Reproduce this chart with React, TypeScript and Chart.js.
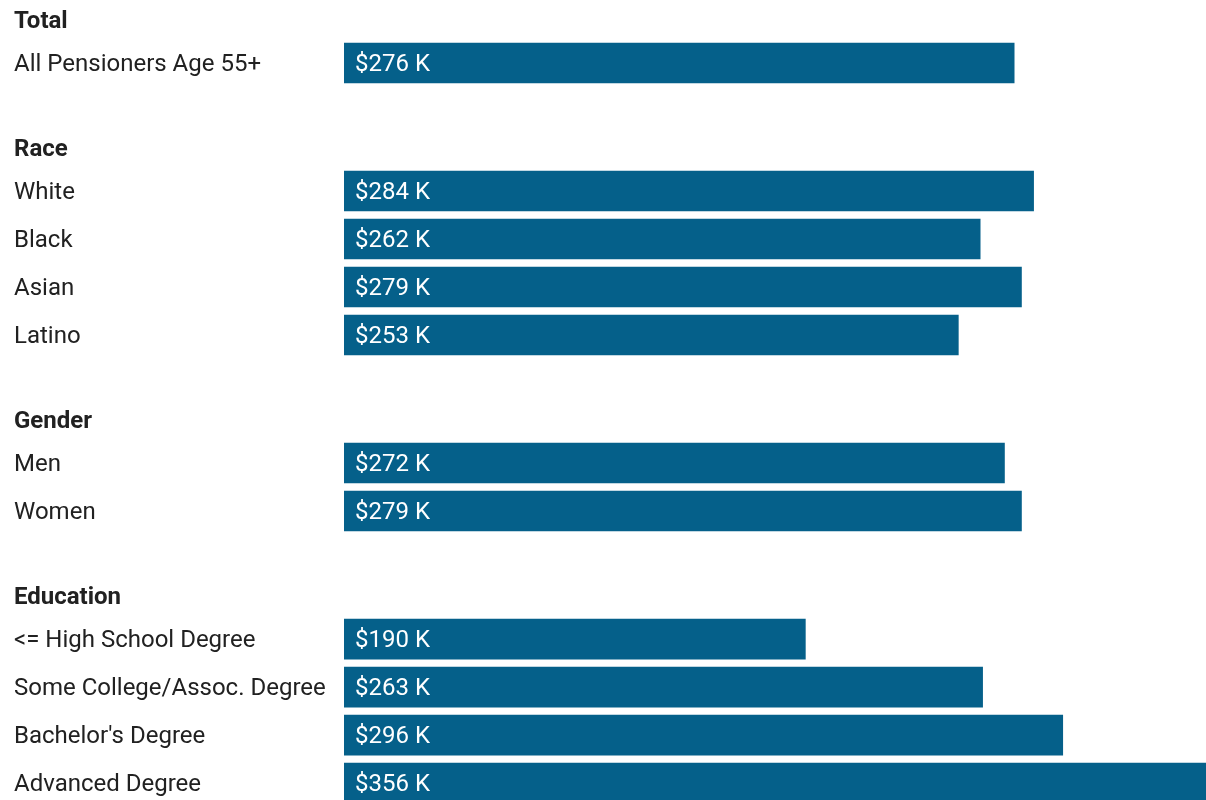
import React, { useEffect, useRef } from "react";
import { Chart, registerables } from "chart.js";

Chart.register(...registerables);

const groupTitles = ["Total", "Race", "Gender", "Education"];
const totalLabels = ["All Pensioners Age 55+"];
const totalValues = [276];
const raceLabels = ["White", "Black", "Asian", "Latino"];
const raceValues = [284, 262, 279, 253];
const genderLabels = ["Men", "Women"];
const genderValues = [272, 279];
const educationLabels = [
  "<= High School Degree",
  "Some College/Assoc. Degree",
  "Bachelor's Degree",
  "Advanced Degree",
];
const educationValues = [190, 263, 296, 356];

const groupLabels = [totalLabels, raceLabels, genderLabels, educationLabels];
const groupValues = [totalValues, raceValues, genderValues, educationValues];

const BAR_COLOR = "#05608a";
const TEXT_COLOR = "#212121";
const FONT = "Roboto";
const GROUP_GAP = 1.667; // extra rows between groups
const HEADER_OFFSET = 0.9; // header sits this many rows above first item
const TEXT_NUDGE = 2;

type Row = { x: number; y: number; label: string };

function buildRows() {
  const rows: Row[] = [];
  const headers: { y: number; title: string }[] = [];
  let pos = 0;
  groupLabels.forEach((labels, g) => {
    if (g > 0) pos += GROUP_GAP;
    headers.push({ y: pos - HEADER_OFFSET, title: groupTitles[g] });
    labels.forEach((label, i) => {
      rows.push({ x: groupValues[g][i], y: pos, label });
      pos += 1;
    });
  });
  return { rows, headers };
}

export default function App() {
  const ref = useRef<HTMLCanvasElement | null>(null);

  useEffect(() => {
    if (!ref.current) return;
    const { rows, headers } = buildRows();

    const textPlugin = {
      id: "textPlugin",
      afterDatasetsDraw(chart: any) {
        const ctx = chart.ctx;
        const yScale = chart.scales.y;
        const meta = chart.getDatasetMeta(0);
        ctx.save();
        ctx.textBaseline = "middle";
        ctx.textAlign = "left";
        ctx.fillStyle = TEXT_COLOR;
        ctx.font = `bold 24px ${FONT}`;
        headers.forEach((h) => {
          ctx.fillText(h.title, 14, yScale.getPixelForValue(h.y) + TEXT_NUDGE);
        });
        ctx.font = `24px ${FONT}`;
        rows.forEach((r) => {
          ctx.fillText(r.label, 14, yScale.getPixelForValue(r.y) + TEXT_NUDGE);
        });
        ctx.fillStyle = "#ffffff";
        meta.data.forEach((bar: any, i: number) => {
          ctx.fillText(`$${rows[i].x} K`, bar.base + 11, bar.y + TEXT_NUDGE);
        });
        ctx.restore();
      },
    };

    const chart = new Chart(ref.current, {
      type: "bar",
      data: {
        datasets: [
          {
            data: rows.map((r) => ({ x: r.x, y: r.y })),
            backgroundColor: BAR_COLOR,
            borderWidth: 0,
            barThickness: 40,
          },
        ],
      },
      options: {
        indexAxis: "y",
        animation: false,
        responsive: true,
        maintainAspectRatio: false,
        layout: { padding: { left: 344, right: 0, top: 0, bottom: 0 } },
        plugins: {
          legend: { display: false },
          tooltip: { enabled: false },
        },
        scales: {
          x: { type: "linear", min: 0, max: 355, display: false, offset: false },
          y: {
            type: "linear",
            reverse: true,
            min: -1.3125,
            max: 15.354,
            display: false,
            offset: false,
          },
        },
      } as any,
      plugins: [textPlugin],
    });
    return () => chart.destroy();
  }, []);

  return (
    <div
      style={{
        position: "absolute",
        left: 0,
        top: 0,
        width: 1206,
        height: 800,
        background: "#ffffff",
      }}
    >
      <canvas ref={ref} />
    </div>
  );
}
